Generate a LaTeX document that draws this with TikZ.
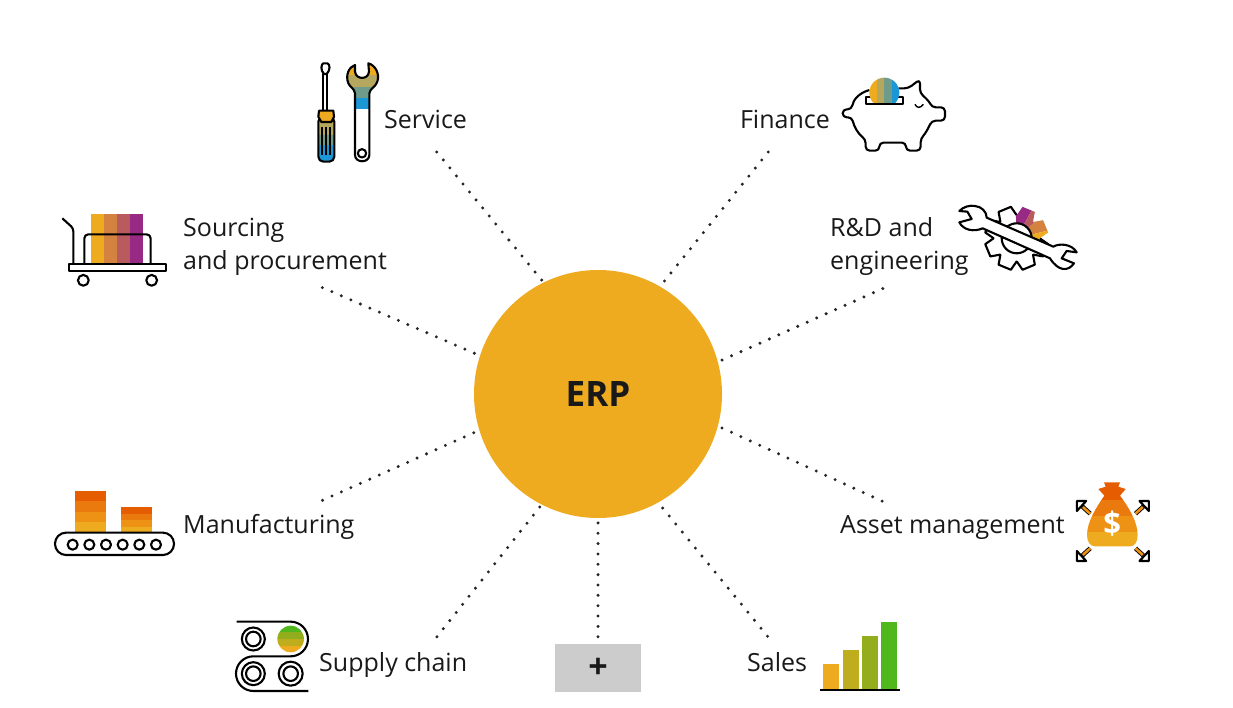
\documentclass[tikz,border=0pt]{standalone}
\usepackage{fontspec}
\setmainfont{Open Sans}
\usetikzlibrary{positioning}
\definecolor{erpgold}{HTML}{EFAB20}
\definecolor{olive}{HTML}{B5A75E}
\definecolor{teal}{HTML}{6E9B8A}
\definecolor{sky}{HTML}{1C97D5}
\definecolor{copper}{HTML}{D3823F}
\definecolor{rose}{HTML}{B85A5E}
\definecolor{plum}{HTML}{982A85}
\definecolor{ember}{HTML}{E55D00}
\definecolor{amber}{HTML}{EB7A0E}
\definecolor{tangerine}{HTML}{EE9216}
\definecolor{leaf}{HTML}{50B81C}
\definecolor{moss}{HTML}{92AE1C}
\definecolor{mustard}{HTML}{C0AD1E}
\tikzset{
	zoomed/.style={x=0.3333pt,y=-0.3333pt},
	iconline/.style={draw=black,line width=2.1pt,line join=round},
	dots/.style={draw=black!85,line width=3.3pt,line cap=round,dash pattern=on 0pt off 10.35pt},
	lbl/.style={inner sep=0pt,font=\fontsize{25}{33}\selectfont,text=black!90,align=left}
}
\newcommand{\spanner}{(165,45) .. controls (148,50) and (135,75) .. (145,100) .. controls (150,112) and (163,115) .. (165,130) -- (165,315) .. controls (165,340) and (208,340) .. (208,315) -- (208,130) .. controls (210,115) and (228,110) .. (232,95) .. controls (240,70) and (225,45) .. (205,40) -- (207,65) .. controls (205,90) and (168,90) .. (165,65) -- cycle}
\begin{document}
\begin{tikzpicture}[x=1pt,y=-1pt]
	\useasboundingbox (0,0) rectangle (1233,708);

	\node(ERP) [circle,fill=erpgold,minimum size=248pt,inner sep=0pt,font=\fontsize{35}{35}\selectfont\bfseries,text=black!90] at (598,394) {ERP};
	\node(Service) [lbl,above left=265pt and 214pt of ERP.center,anchor=base west] {Service};
	\node(Finance) [lbl,above right=265pt and 232pt of ERP.center,anchor=base east] {Finance};
	\node(Sourcing) [lbl,above left=124pt and 415pt of ERP.center,anchor=base west] {Sourcing\\and procurement};
	\node(Research) [lbl,above right=124pt and 232pt of ERP.center,anchor=base west] {R\&D and\\engineering};
	\node(Manufacturing) [lbl,below left=139pt and 415pt of ERP.center,anchor=base west] {Manufacturing};
	\node(Asset) [lbl,below right=139pt and 467pt of ERP.center,anchor=base east] {Asset management};
	\node(Supply) [lbl,below left=277pt and 279pt of ERP.center,anchor=base west] {Supply chain};
	\node(Sales) [lbl,below right=277pt and 149pt of ERP.center,anchor=base west] {Sales};
	\node(More) [below=274pt of ERP.center,anchor=center,fill=black!20,minimum width=86pt,minimum height=48pt,inner sep=0pt,font=\fontsize{34}{34}\selectfont\bfseries,text=black!90] {+};

	\coordinate(E1) at (436,151);
	\coordinate(E2) at (769,151);
	\coordinate(E3) at (321,287);
	\coordinate(E4) at (884,288);
	\coordinate(E5) at (321,501);
	\coordinate(E6) at (884,502);
	\coordinate(E7) at (436,638);
	\coordinate(E8) at (769,638);

	\draw[dots,shorten <=3pt](ERP.116.3) -- (E1);
	\draw[dots,shorten <=7pt](ERP.60.2) -- (E2);
	\draw[dots,shorten <=6pt](ERP.162.8) -- (E3);
	\draw[dots,shorten <=4.5pt](ERP.15.7) -- (E4);
	\draw[dots,shorten <=6pt](ERP.197.2) -- (E5);
	\draw[dots,shorten <=4.5pt](ERP.-15.8) -- (E6);
	\draw[dots,shorten <=3pt](ERP.243.7) -- (E7);
	\draw[dots,shorten <=7pt](ERP.299.8) -- (E8);
	\draw[dots,shorten <=4.7pt](ERP.270) -- (More.north);

	\begin{scope}[shift={(300,50)},zoomed]
		\draw[iconline,fill=white] (70,72) rectangle (82,184);
		\draw[iconline,fill=white] (72,72) .. controls (60,60) and (64,42) .. (70,40) -- (82,40) .. controls (90,42) and (92,60) .. (80,72) -- cycle;
		\begin{scope}
			\clip[rounded corners=5pt] (55,200) rectangle (103,335);
			\fill[olive] (50,200) rectangle (110,255);
			\fill[teal] (50,255) rectangle (110,285);
			\fill[sky] (50,285) rectangle (110,340);
		\end{scope}
		\draw[iconline,rounded corners=5pt] (55,200) rectangle (103,335);
		\draw[iconline,fill=erpgold] (57,182) -- (100,182) -- (102,200) -- (94,216) -- (64,216) -- (55,200) -- cycle;
		\draw[black,line width=1.2pt] (66,232) -- (66,315) (78,232) -- (78,315) (90,232) -- (90,315);

		\fill[white] \spanner;
		\begin{scope}
			\clip \spanner;
			\fill[erpgold] (130,30) rectangle (245,75);
			\fill[olive] (130,75) rectangle (245,110);
			\fill[teal] (130,110) rectangle (245,145);
			\fill[sky] (130,145) rectangle (245,178);
		\end{scope}
		\draw[iconline] \spanner;
		\draw[iconline] (186,310) circle[radius=4.2pt];
	\end{scope}

	\begin{scope}[shift={(830,60)},zoomed]
		\draw[iconline,fill=white,rounded corners=4pt] (205,85) -- (235,85) -- (270,58) -- (270,100) .. controls (285,112) and (298,125) .. (305,142) -- (345,142) -- (345,182) -- (305,182) .. controls (295,205) and (285,222) .. (272,235) -- (272,272) -- (228,272) -- (228,248) -- (148,248) -- (148,272) -- (107,272) -- (107,238) .. controls (85,222) and (72,200) .. (66,172) -- (38,172) -- (38,148) -- (65,148) .. controls (70,120) and (85,100) .. (118,90);
		\draw[iconline,fill=white] (107,112) rectangle (218,132);
		\begin{scope}
			\clip (118,40) rectangle (208,128);
			\clip (163,98) circle[radius=15pt];
			\fill[erpgold] (110,40) rectangle (140,130);
			\fill[olive] (140,40) rectangle (162,130);
			\fill[teal] (162,40) rectangle (185,130);
			\fill[sky] (185,40) rectangle (215,130);
		\end{scope}
		\draw[black,line width=1.4pt] (255,133) .. controls (260,145) and (272,145) .. (280,133);
	\end{scope}

	\begin{scope}[shift={(1016.7,238.3)},x=0.3333pt,y=0.3333pt]
		\fill[white] (90:70) \foreach \a in {112.5,157.5,202.5,247.5,292.5,337.5,22.5,67.5} { -- (\a-22:70) -- (\a-12:96) -- (\a+12:96) -- (\a+22:70)} -- cycle;
		\begin{scope}
			\clip (90:70) \foreach \a in {112.5,157.5,202.5,247.5,292.5,337.5,22.5,67.5} { -- (\a-22:70) -- (\a-12:96) -- (\a+12:96) -- (\a+22:70)} -- cycle;
			\fill[plum] (0,0) -- (62:130) -- (92:130) -- cycle;
			\fill[rose] (0,0) -- (42:130) -- (62:130) -- cycle;
			\fill[copper] (0,0) -- (14:130) -- (42:130) -- cycle;
			\fill[erpgold] (0,0) -- (-12:130) -- (14:130) -- cycle;
		\end{scope}
		\draw[iconline] (90.5:70) \foreach \a in {112.5,157.5,202.5,247.5,292.5,337.5} { -- (\a-22:70) -- (\a-12:96) -- (\a+12:96) -- (\a+22:70)};
		\draw[iconline,fill=white] (0,0) circle[radius=15pt];
	\end{scope}
	\begin{scope}[shift={(950,195)},zoomed]
		\draw[iconline,fill=white] (75,33) .. controls (95,35) and (110,50) .. (110,68) -- (310,155) .. controls (325,145) and (365,145) .. (380,172) -- (350,168) -- (335,190) -- (372,205) .. controls (355,230) and (325,230) .. (300,190) -- (98,100) .. controls (70,112) and (40,105) .. (28,82) -- (65,72) -- (52,50) -- (28,48) .. controls (40,35) and (60,30) .. (75,33) -- cycle;
	\end{scope}

	\begin{scope}[shift={(55,205)},zoomed]
		\fill[erpgold] (108,27) rectangle (147,175);
		\fill[copper] (147,27) rectangle (186,175);
		\fill[rose] (186,27) rectangle (225,175);
		\fill[plum] (225,27) rectangle (264,175);
		\draw[iconline,rounded corners=4pt] (88,177) -- (88,88) -- (287,88) -- (287,177);
		\draw[iconline,rounded corners=3pt] (22,40) -- (55,70) -- (55,177);
		\draw[iconline,fill=white] (42,177) rectangle (332,198);
		\draw[iconline] (85,226) circle[radius=5.4pt];
		\draw[iconline] (290,226) circle[radius=5.4pt];
	\end{scope}

	\begin{scope}[shift={(45,480)},zoomed]
		\fill[ember] (90,32) rectangle (184,63);
		\fill[amber] (90,63) rectangle (184,95);
		\fill[tangerine] (90,95) rectangle (184,126);
		\fill[erpgold] (90,126) rectangle (184,158);
		\fill[ember] (227,82) rectangle (322,101);
		\fill[amber] (227,101) rectangle (322,120);
		\fill[tangerine] (227,120) rectangle (322,140);
		\fill[erpgold] (227,140) rectangle (322,158);
		\draw[iconline,rounded corners=11pt] (30,158) rectangle (387,225);
		\foreach \cx in {83,133,183,233,283,333}
			\draw[iconline] (\cx,194) circle[radius=5pt];
	\end{scope}

	\begin{scope}[shift={(1065,475)},zoomed]
		\begin{scope}
			\clip (117,22) -- (165,22) -- (160,35) -- (182,42) -- (165,62) .. controls (190,95) and (218,140) .. (218,180) .. controls (218,200) and (210,214) .. (195,214) -- (90,214) .. controls (75,214) and (66,200) .. (66,180) .. controls (66,140) and (95,95) .. (118,62) -- (100,42) -- (122,35) -- cycle;
			\fill[ember] (60,15) rectangle (225,75);
			\fill[amber] (60,75) rectangle (225,122);
			\fill[tangerine] (60,122) rectangle (225,170);
			\fill[erpgold] (60,170) rectangle (225,220);
		\end{scope}
		\node(Dollar) at (142,147) [white,font=\fontsize{31}{31}\selectfont\bfseries] {\$};
		\foreach \sx/\sy in {1/1,-1/1,1/-1,-1/-1}
		{
			\begin{scope}[shift={(143.5,168)},xscale=\sx,yscale=\sy]
				\draw[black,line width=4.4pt] (-92,-74) -- (-68,-52);
				\draw[tangerine,line width=2.6pt] (-90,-72) -- (-68,-52);
				\draw[iconline,fill=white] (-108,-90) -- (-80,-90) -- (-108,-60) -- cycle;
			\end{scope}
		}
	\end{scope}

	\begin{scope}[shift={(230,615)},zoomed]
		\draw[iconline] (20,20) -- (182,20) arc[start angle=90,end angle=-90,radius=17.33pt] -- (70,124) arc[start angle=90,end angle=270,radius=17.33pt] -- (235,228);
		\draw[iconline] (70,72) circle[radius=11.5pt];
		\draw[iconline] (70,72) circle[radius=7.3pt];
		\draw[iconline] (70,176) circle[radius=11.5pt];
		\draw[iconline] (70,176) circle[radius=7.3pt];
		\draw[iconline] (182,176) circle[radius=12pt];
		\draw[iconline] (182,176) circle[radius=7.3pt];
		\begin{scope}
			\clip (182,72) circle[radius=13.3pt];
			\fill[leaf] (130,30) rectangle (235,52);
			\fill[moss] (130,52) rectangle (235,72);
			\fill[mustard] (130,72) rectangle (235,92);
			\fill[erpgold] (130,92) rectangle (235,115);
		\end{scope}
	\end{scope}

	\begin{scope}[shift={(815,615)},zoomed]
		\fill[erpgold] (25,148) rectangle (73,222);
		\fill[mustard] (83,105) rectangle (131,222);
		\fill[moss] (141,64) rectangle (189,222);
		\fill[leaf] (198,22) rectangle (246,222);
		\draw[black,line width=2pt] (14,224) -- (256,224);
	\end{scope}
\end{tikzpicture}
\end{document}
